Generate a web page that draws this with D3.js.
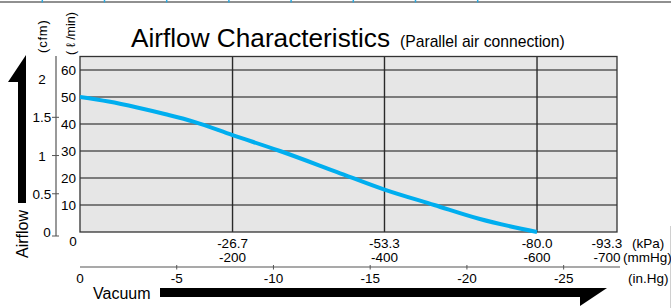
<!DOCTYPE html>
<html>
<head>
<meta charset="utf-8">
<script src="https://cdn.jsdelivr.net/npm/d3@7"></script>
<style>
  body { margin: 0; background: #fff; }
  svg { display: block; font-family: "Liberation Sans", Arial, sans-serif; }
</style>
</head>
<body>
<svg id="chart" width="671" height="308"></svg>
<script>
// curve (kPa vs l/min)
var pressure = [0, -5, -10, -15, -20, -26.7, -35, -45, -53.3, -62, -70, -80];
var airflow  = [50, 48.3, 46.1, 43.6, 40.8, 35.9, 30, 22.2, 15.7, 10, 4.8, 0];

var flowTicks = [10, 20, 30, 40, 50, 60];
var cfmLabels = [0, 0.5, 1, 1.5, 2];
var cfmMarks  = [0, 0.5, 1, 1.5];
var kpaTicks  = ["-26.7", "-53.3", "-80.0"];
var mmhgTicks = ["-200", "-400", "-600"];
var inhgTicks = [0, -5, -10, -15, -20, -25];

var LPM_PER_CFM = 28.317;
var KPA_PER_INHG = 3.38639;

var svg = d3.select("#chart");

var x = d3.scaleLinear().domain([0, -94]).range([80, 617]);
var y = d3.scaleLinear().domain([0, 65]).range([232, 56.5]);
var yCfm = d3.scaleLinear().domain([0, 65 / LPM_PER_CFM]).range([232, 56.5]);

// thin rule across the top with light blue ticks
svg.append("line")
  .attr("x1", 0).attr("x2", 671).attr("y1", 2).attr("y2", 2)
  .attr("stroke", "#6b6b6b").attr("stroke-width", 1.5);
var topTick = d3.scaleLinear().domain([0, 7]).range([42.3, 477.7]);
svg.selectAll(".toptick").data(d3.range(8)).enter().append("line")
  .attr("x1", d => topTick(d)).attr("x2", d => topTick(d))
  .attr("y1", 0).attr("y2", 2.5)
  .attr("stroke", "#29a9e0").attr("stroke-width", 1.5);
svg.append("line")
  .attr("x1", 670.5).attr("x2", 670.5).attr("y1", 226).attr("y2", 308)
  .attr("stroke", "#d0d0d0");

// plot background
svg.append("rect")
  .attr("x", x(0)).attr("y", y(65))
  .attr("width", x(-94) - x(0)).attr("height", y(0) - y(65))
  .attr("fill", "#e6e6e6");

// horizontal grid
svg.selectAll(".hgrid").data(flowTicks).enter().append("line")
  .attr("x1", x(0)).attr("x2", x(-94))
  .attr("y1", d => y(d)).attr("y2", d => y(d))
  .attr("stroke", "#111").attr("stroke-width", 1);

// vertical grid
svg.selectAll(".vgrid").data(kpaTicks).enter().append("line")
  .attr("x1", d => x(+d)).attr("x2", d => x(+d))
  .attr("y1", y(65)).attr("y2", y(0))
  .attr("stroke", "#2a2a2a").attr("stroke-width", 1.4);

// frame
svg.append("rect")
  .attr("x", x(0)).attr("y", y(65))
  .attr("width", x(-94) - x(0)).attr("height", y(0) - y(65))
  .attr("fill", "none").attr("stroke", "#333").attr("stroke-width", 1.3);

// the curve
var line = d3.line()
  .x((d, i) => x(pressure[i]))
  .y(d => y(d))
  .curve(d3.curveMonotoneX);
svg.append("path")
  .datum(airflow)
  .attr("d", line)
  .attr("fill", "none")
  .attr("stroke", "#00aeef")
  .attr("stroke-width", 4);

// l/min labels
svg.selectAll(".flowlab").data(flowTicks).enter().append("text")
  .attr("x", 76).attr("y", d => y(d) + 5)
  .attr("text-anchor", "end").attr("font-size", 13.5)
  .text(d => d);

// cfm axis
svg.append("line")
  .attr("x1", 56).attr("x2", 56).attr("y1", 56).attr("y2", 236)
  .attr("stroke", "#555").attr("stroke-width", 1.2);
svg.selectAll(".cfmtick").data(cfmMarks).enter().append("line")
  .attr("x1", 52).attr("x2", 59)
  .attr("y1", d => d === 0 ? 236 : yCfm(d)).attr("y2", d => d === 0 ? 236 : yCfm(d))
  .attr("stroke", "#555").attr("stroke-width", 1);
svg.selectAll(".cfmlab").data(cfmLabels).enter().append("text")
  .attr("x", d => d === 0 ? 47 : 42).attr("y", d => yCfm(d) + 5)
  .attr("text-anchor", "middle").attr("font-size", 13.5)
  .text(d => d);

// unit labels (rotated)
svg.append("text")
  .attr("transform", "translate(47,53) rotate(-90)")
  .attr("font-size", 13).attr("letter-spacing", 0.8).text("(cfm)");
svg.append("text")
  .attr("transform", "translate(75,55) rotate(-90)")
  .attr("font-size", 12.5).text("( \u2113 /min)");

// Airflow arrow
svg.append("path")
  .attr("d", "M26,55 L26,203 L18,203 L18,82 L8,82 Z")
  .attr("fill", "#000");
svg.append("text")
  .attr("transform", "translate(28,258) rotate(-90)")
  .attr("font-size", 16).text("Airflow");

// title
svg.append("text")
  .attr("x", 131).attr("y", 47)
  .attr("font-size", 26.2).text("Airflow Characteristics");
svg.append("text")
  .attr("x", 400).attr("y", 47)
  .attr("font-size", 15.7).text("(Parallel air connection)");

// kPa / mmHg labels
svg.append("text").attr("x", 73).attr("y", 246)
  .attr("text-anchor", "middle").attr("font-size", 13.5).text("0");
svg.selectAll(".kpalab").data(kpaTicks).enter().append("text")
  .attr("x", d => x(+d)).attr("y", 248)
  .attr("text-anchor", "middle").attr("font-size", 13.5)
  .text(d => d);
svg.selectAll(".mmlab").data(mmhgTicks).enter().append("text")
  .attr("x", (d, i) => x(+kpaTicks[i])).attr("y", 262)
  .attr("text-anchor", "middle").attr("font-size", 13.5)
  .text(d => d);
svg.append("text").attr("x", 607).attr("y", 248)
  .attr("text-anchor", "middle").attr("font-size", 13.5).text("-93.3");
svg.append("text").attr("x", 607).attr("y", 262)
  .attr("text-anchor", "middle").attr("font-size", 13.5).text("-700");
svg.append("text").attr("x", 632).attr("y", 248)
  .attr("font-size", 13.5).text("(kPa)");
svg.append("text").attr("x", 623).attr("y", 262)
  .attr("font-size", 13.5).text("(mmHg)");

// in.Hg axis
svg.append("line")
  .attr("x1", x(0)).attr("x2", 620).attr("y1", 267).attr("y2", 267)
  .attr("stroke", "#555").attr("stroke-width", 1.2);
svg.selectAll(".inhgtick").data(inhgTicks.slice(1)).enter().append("line")
  .attr("x1", d => x(d * KPA_PER_INHG)).attr("x2", d => x(d * KPA_PER_INHG))
  .attr("y1", 265).attr("y2", 269.5)
  .attr("stroke", "#555").attr("stroke-width", 1);
svg.selectAll(".inhglab").data(inhgTicks).enter().append("text")
  .attr("x", d => x(d * KPA_PER_INHG)).attr("y", 283)
  .attr("text-anchor", "middle").attr("font-size", 13.5)
  .text(d => d);
svg.append("text").attr("x", 628).attr("y", 283)
  .attr("font-size", 13.5).text("(in.Hg)");

// Vacuum arrow
svg.append("text").attr("x", 93).attr("y", 299)
  .attr("font-size", 16).text("Vacuum");
svg.append("path")
  .attr("d", "M160,288 L607,288 L580,306 L580,297 L160,297 Z")
  .attr("fill", "#000");
</script>
</body>
</html>
